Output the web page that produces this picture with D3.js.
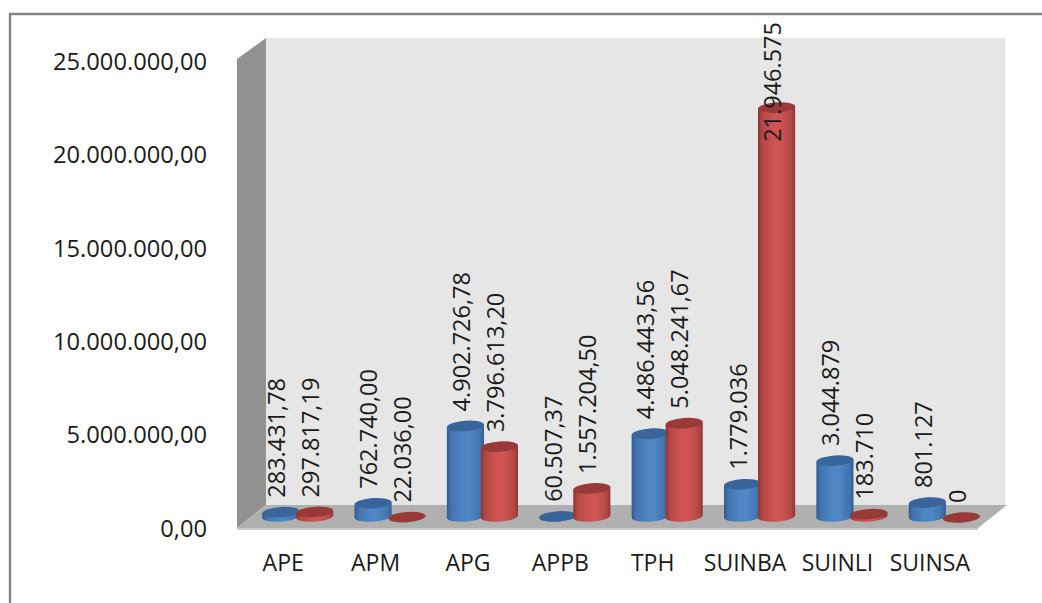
<!DOCTYPE html>
<html>
<head>
<meta charset="utf-8">
<script src="https://cdn.jsdelivr.net/npm/d3@7"></script>
<style>
html,body{margin:0;padding:0;background:#fff;overflow:hidden}
svg{display:block}
text{font-family:"Open Sans",sans-serif;fill:#1a1a1a}
</style>
</head>
<body>
<svg id="c" width="1042" height="603"></svg>
<script>
const categories = ["APE","APM","APG","APPB","TPH","SUINBA","SUINLI","SUINSA"];
const seriesNames = ["A","B"];
const blueValues = [283431.78,762740,4902726.78,60507.37,4486443.56,1779036,3044879,801127];
const redValues = [297817.19,22036,3796613.20,1557204.50,5048241.67,21946575,183710,0];
const blueLabels = ["283.431,78","762.740,00","4.902.726,78","60.507,37","4.486.443,56","1.779.036","3.044.879","801.127"];
const redLabels = ["297.817,19","22.036,00","3.796.613,20","1.557.204,50","5.048.241,67","21.946.575","183.710","0"];
const tickValues = [0,5000000,10000000,15000000,20000000,25000000];
const tickLabels = ["0,00","5.000.000,00","10.000.000,00","15.000.000,00","20.000.000,00","25.000.000,00"];

const svg = d3.select("#c");
const x = d3.scaleBand().domain(categories).range([237,976]);
const y = d3.scaleLinear().domain([0,25000000]).range([527,60]);
const inner = d3.scaleBand().domain(seriesNames).range([-34,34]).paddingInner(0);
const depth = {dx:29, dy:-22};
const mid = {dx:14.5, dy:-11};
const rx = 18.6, ry = 5.2, tilt = -4;

const defs = svg.append("defs");
function grad(id, edge, centre){
  const g = defs.append("linearGradient").attr("id",id).attr("x1",0).attr("x2",1).attr("y1",0).attr("y2",0);
  [[0,edge],[0.12,d3.interpolateRgb(edge,centre)(0.6)],[0.45,centre],[0.62,centre],[0.9,d3.interpolateRgb(edge,centre)(0.55)],[1,edge]]
    .forEach(s=>g.append("stop").attr("offset",s[0]).attr("stop-color",s[1]));
}
grad("gb","#2f5b8f","#4f86c6");
grad("gr","#8d3533","#cf5553");

// frame
svg.append("path").attr("d","M10,603V14H1042").attr("fill","none").attr("stroke","#848484").attr("stroke-width",2.4);

// walls
const x0 = x.range()[0], x1 = x.range()[1], yB = y(0), yT = y(25000000);
svg.append("path").attr("d",`M${x0+depth.dx},${yT+depth.dy}H1005V${yB+depth.dy}H${x0+depth.dx}Z`).attr("fill","#e6e6e6");
svg.append("path").attr("d",`M${x0},${yT-1}L${x0+depth.dx},${yT+depth.dy}V${yB+depth.dy}L${x0},${yB+1}Z`).attr("fill","#929292");
svg.append("path").attr("d",`M${x0},${yB+1}L${x0+depth.dx},${yB+depth.dy}H1007L${x1+2},${yB+1}Z`).attr("fill","#b0b0b0");
svg.append("rect").attr("x",x0).attr("y",yB+1).attr("width",x1+2-x0).attr("height",2).attr("fill","#c9c9c9");

// y axis
svg.append("g").selectAll("text").data(tickValues).join("text")
  .attr("x",207).attr("y",d=>y(d)+1.5).attr("dy","0.35em").attr("text-anchor","end")
  .attr("font-size",23.7).text((d,i)=>tickLabels[i]);

// x axis
svg.append("g").selectAll("text").data(categories).join("text")
  .attr("x",d=>x(d)+x.bandwidth()/2).attr("y",563).attr("dy","0.35em").attr("text-anchor","middle")
  .attr("font-size",23).text(d=>d);

// cylinders
const rad = tilt*Math.PI/180;
function drawSeries(name, values, labels, fillId, topColor){
  const g = svg.append("g");
  const rows = categories.map((c,i)=>({
    cx: x(c)+x.bandwidth()/2+mid.dx+inner(name)+inner.bandwidth()/2,
    yTop: y(values[i])+mid.dy+1.5, yBase: y(0)+mid.dy+0.5, label: labels[i]
  }));
  const ex = rx*Math.cos(rad), ey = rx*Math.sin(rad);
  g.selectAll("path.body").data(rows).join("path").attr("class","body")
    .attr("d",d=>`M${d.cx-ex},${d.yTop-ey}L${d.cx-ex},${d.yBase-ey}A${rx},${ry} ${tilt} 0 0 ${d.cx+ex},${d.yBase+ey}L${d.cx+ex},${d.yTop+ey}Z`)
    .attr("fill",`url(#${fillId})`);
  g.selectAll("ellipse").data(rows).join("ellipse")
    .attr("cx",d=>d.cx).attr("cy",d=>d.yTop).attr("rx",rx).attr("ry",ry)
    .attr("transform",d=>`rotate(${tilt} ${d.cx} ${d.yTop})`).attr("fill",topColor);
  return rows;
}
const rowsB = drawSeries("A",blueValues,blueLabels,"gb","#3a659a");
const rowsR = drawSeries("B",redValues,redLabels,"gr","#973a38");

// value labels
const lab = svg.append("g");
rowsB.concat(rowsR).forEach(d=>{
  const t = lab.append("text").attr("font-size",23.5).text(d.label);
  const len = t.node().getComputedTextLength();
  const bottom = Math.max(d.yTop-14.5, 22+len);
  t.attr("transform",`translate(${d.cx-4},${bottom}) rotate(-90)`).attr("dy","0.35em");
});
</script>
</body>
</html>
